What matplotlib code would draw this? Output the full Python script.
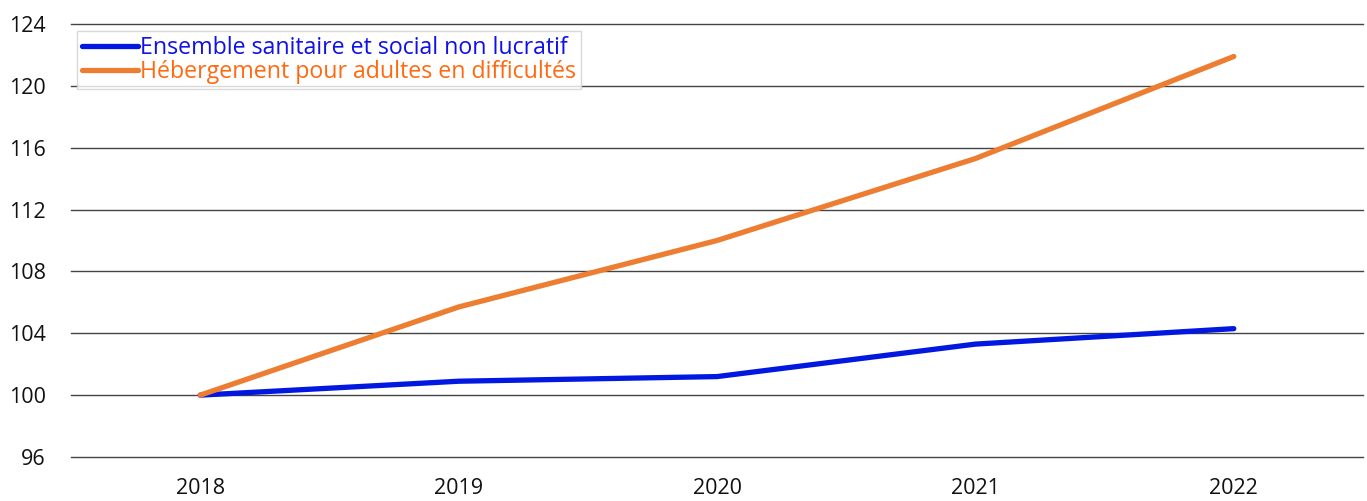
import matplotlib.pyplot as plt

years = ['2018', '2019', '2020', '2021', '2022']
ensemble = [100.0, 100.9, 101.2, 103.3, 104.3]
hebergement = [100.0, 105.7, 110.0, 115.3, 121.9]
yticks = [96, 100, 104, 108, 112, 116, 120, 124]

plt.rcParams['font.family'] = ['Open Sans', 'DejaVu Sans']

fig = plt.figure(figsize=(13.67, 5.01), dpi=100)
ax = fig.add_axes([71 / 1367, 44 / 501, 1292 / 1367, 433 / 501])

x = range(len(years))
ax.plot(x, ensemble, color='#0018E0', lw=3.8, solid_capstyle='round',
        label='Ensemble sanitaire et social non lucratif')
ax.plot(x, hebergement, color='#ED7D31', lw=3.8, solid_capstyle='round',
        label='Hébergement pour adultes en difficultés')

ax.set_xlim(-0.5, len(years) - 0.5)
ax.set_ylim(96, 124)
ax.set_yticks(yticks)
ax.set_xticks(list(x))
ax.set_xticklabels(years)
ax.tick_params(axis='both', length=0, labelsize=15.5, colors='#111111')
ax.tick_params(axis='y', pad=18)
ax.tick_params(axis='x', pad=15)
ax.grid(axis='y', color='#444444', lw=1)
for gl in ax.get_ygridlines():
    gl.set_clip_on(False)
ax.set_axisbelow(True)
for s in ax.spines.values():
    s.set_visible(False)

leg = ax.legend(loc='upper left', bbox_to_anchor=(0.0046, 0.984), fontsize=16.7,
                frameon=True, fancybox=False, handlelength=2.4, handletextpad=0.1,
                borderpad=0.22, labelspacing=0.0, borderaxespad=0)
leg.get_frame().set_edgecolor('#d0d0d0')
leg.get_frame().set_linewidth(1)
for txt, c in zip(leg.get_texts(), ['#1010E8', '#FF6A10']):
    txt.set_color(c)

fig.savefig('out.png', dpi=100)
